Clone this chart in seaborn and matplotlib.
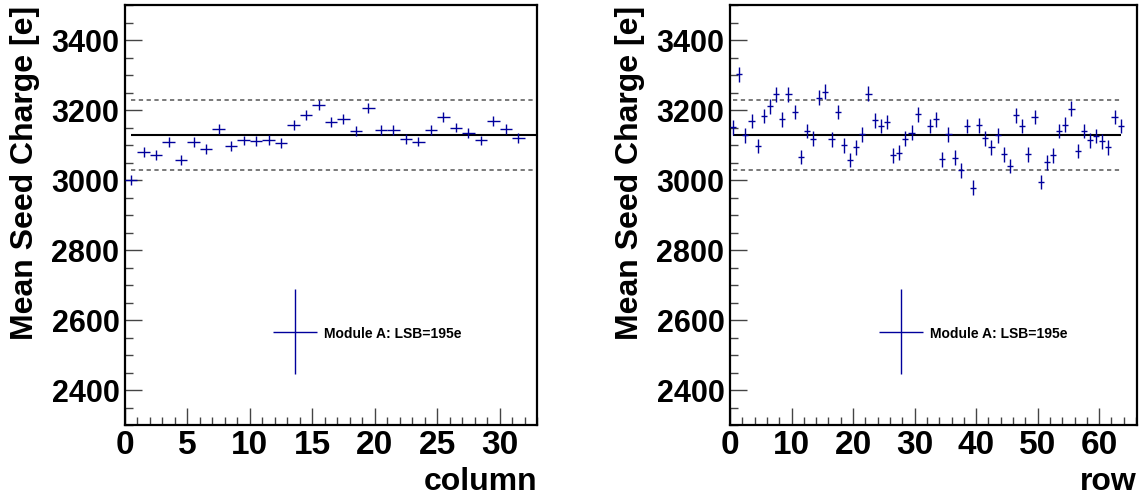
import numpy as np
import matplotlib
matplotlib.use("Agg")
import matplotlib.pyplot as plt
import seaborn as sns
from matplotlib.container import ErrorbarContainer
from matplotlib.legend_handler import HandlerErrorbar
from matplotlib.ticker import MultipleLocator

# Mean seed charge per column (32 columns)
column_charge = [3001, 3080, 3071, 3109, 3057, 3109, 3088, 3145, 3097, 3113,
                 3111, 3114, 3105, 3157, 3186, 3214, 3166, 3175, 3140, 3205,
                 3143, 3143, 3118, 3110, 3143, 3181, 3150, 3135, 3113, 3169,
                 3145, 3120]
column_err = 14

# Mean seed charge per row (64 rows, row 31 has no entry)
row_charge = [3151, 3302, 3128, 3169, 3097, 3183, 3211, 3245, 3173, 3245,
              3194, 3066, 3140, 3118, 3235, 3252, 3116, 3194, 3099, 3057,
              3093, 3131, 3247, 3171, 3154, 3166, 3071, 3078, 3118, 3135,
              3188, np.nan, 3154, 3173, 3059, 3131, 3064, 3028, 3154, 2978,
              3156, 3119, 3093, 3128, 3073, 3040, 3185, 3154, 3073, 3180,
              2994, 3051, 3071, 3140, 3158, 3204, 3083, 3140, 3113, 3126,
              3111, 3093, 3180, 3154]
row_err = 21

module_mean = 3128
band_halfwidth = 100
legend_label = "Module A: LSB=195e"
y_label = "Mean Seed Charge [e]"

sns.set_theme(style="white")
plt.rcParams["font.family"] = ["Liberation Sans", "DejaVu Sans"]
plt.rcParams["font.weight"] = "bold"
plt.rcParams["axes.labelweight"] = "bold"
for key in ("text.color", "axes.labelcolor", "xtick.color", "ytick.color"):
    plt.rcParams[key] = "black"

BLUE = "#00009c"
W, H = 1145, 502
fig = plt.figure(figsize=(W / 100, H / 100), dpi=100)

panels = [
    dict(rect=[125 / W, 76 / H, 412 / W, 420 / H], values=column_charge,
         err=column_err, xlabel="column", xmax=33, line_end=33,
         major=5, minor=1, leg_x=0.359),
    dict(rect=[730 / W, 76 / H, 406.7 / W, 420 / H], values=row_charge,
         err=row_err, xlabel="row", xmax=66.1, line_end=63.5,
         major=10, minor=2, leg_x=0.366),
]

for p in panels:
    ax = fig.add_axes(p["rect"])
    vals = np.asarray(p["values"], dtype=float)
    x = np.arange(len(vals)) + 0.5
    ok = ~np.isnan(vals)

    ax.errorbar(x[ok], vals[ok], xerr=0.5, yerr=p["err"], fmt="none",
                ecolor=BLUE, elinewidth=1.0, capsize=0, label=legend_label,
                zorder=3)
    ax.hlines(module_mean, x[0], p["line_end"], colors="black", lw=1.5, zorder=2)
    ax.hlines([module_mean + band_halfwidth, module_mean - band_halfwidth],
              x[0], p["line_end"], colors="#555555", lw=1.1,
              linestyles=(0, (2.8, 2.3)), zorder=2)

    ax.set_xlim(0, p["xmax"])
    ax.set_ylim(2300, 3500)
    ax.xaxis.set_major_locator(MultipleLocator(p["major"]))
    ax.xaxis.set_minor_locator(MultipleLocator(p["minor"]))
    ax.yaxis.set_major_locator(MultipleLocator(200))
    ax.yaxis.set_minor_locator(MultipleLocator(50))
    ax.tick_params(which="both", direction="in", color="#444444", width=1,
                   top=False, right=False, left=True, bottom=True,
                   labelcolor="black")
    ax.tick_params(axis="y", labelsize=22, pad=4)
    ax.tick_params(axis="x", labelsize=24, pad=3)
    ax.tick_params(which="major", length=12)
    ax.tick_params(which="minor", length=6)
    for lab in ax.get_xticklabels() + ax.get_yticklabels():
        lab.set_fontweight("bold")
    for s in ax.spines.values():
        s.set_color("black")
        s.set_linewidth(1.6)

    ax.set_xlabel(p["xlabel"], fontsize=23, fontweight="bold", loc="right",
                  labelpad=4, color="black")
    ax.set_ylabel(y_label, fontsize=23, fontweight="bold", loc="top",
                  labelpad=8, color="black")

    leg = ax.legend(loc="center left", bbox_to_anchor=(p["leg_x"], 0.22),
                    frameon=False, numpoints=1, handlelength=3.2,
                    handletextpad=0.45, borderpad=0, borderaxespad=0,
                    prop=dict(size=10, weight="bold"),
                    handler_map={ErrorbarContainer: HandlerErrorbar(
                        xerr_size=1.58, yerr_size=3.05)})
    for t in leg.get_texts():
        t.set_color("black")

fig.savefig("out.png", dpi=100)
